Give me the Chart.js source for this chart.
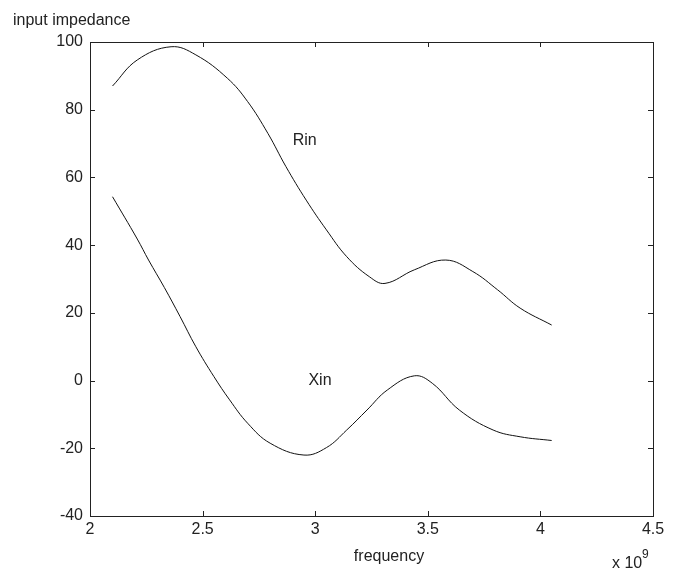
<!DOCTYPE html>
<html>
<head>
<meta charset="utf-8">
<title>input impedance</title>
<script src="https://cdn.jsdelivr.net/npm/chart.js@4.4.0/dist/chart.umd.min.js"></script>
<style>
    html, body { margin: 0; padding: 0; background: #fff; }
    #wrap { width: 677px; height: 571px; }
</style>
</head>
<body>
<div id="wrap"><canvas id="impedanceChart" width="677" height="571"></canvas></div>
<script>
    //== DỮ LIỆU (tần số tính theo đơn vị x 10^9) ==
    const rinFreq   = [2.10, 2.21, 2.36, 2.47, 2.61, 2.70, 2.79, 2.87, 2.96, 3.05, 3.14, 3.24, 3.31, 3.44, 3.58, 3.70, 3.81, 3.91, 4.05];
    const rinValues = [87.0, 94.7, 98.6, 96.2, 89.3, 82.4, 73.0, 63.2, 53.3, 44.5, 36.6, 30.7, 28.7, 32.7, 35.6, 32.2, 26.8, 21.4, 16.4];

    const xinFreq   = [2.10, 2.21, 2.26, 2.33, 2.40, 2.47, 2.55, 2.62, 2.70, 2.80, 2.95, 3.05, 3.14, 3.23, 3.32, 3.44, 3.52, 3.64, 3.79, 3.91, 4.05];
    const xinValues = [54.3, 41.8, 35.6, 27.5, 18.9, 10.0, 1.2, -5.7, -12.6, -18.5, -22.0, -19.8, -14.6, -8.7, -2.8, 1.4, -0.8, -8.7, -14.6, -16.6, -17.7];

    const xTicks = [2, 2.5, 3, 3.5, 4, 4.5];
    const yTicks = [-40, -20, 0, 20, 40, 60, 80, 100];

    // nhãn chữ đặt trên đường cong (toạ độ dữ liệu)
    const curveLabels = ['Rin', 'Xin'];
    const curveLabelX = [2.90, 2.97];
    const curveLabelY = [71, 0];

    const FONT = '"Liberation Sans", Arial, sans-serif';
    const FONT_SIZE = 16;
    const INK = '#222';

    function toPoints(xs, ys) {
        return xs.map((x, i) => ({ x: x, y: ys[i] }));
    }

    //-- khung + vạch chia hướng vào trong (kiểu matlab)
    const frameAndTicks = {
        id: 'frameAndTicks',
        afterDatasetsDraw(chart) {
            const ctx = chart.ctx;
            const a = chart.chartArea;
            const sx = chart.scales.x, sy = chart.scales.y;
            const len = 5;
            ctx.save();
            ctx.strokeStyle = INK;
            ctx.lineWidth = 1;
            ctx.strokeRect(a.left + 0.5, a.top + 0.5, a.right - a.left, a.bottom - a.top);
            ctx.beginPath();
            xTicks.forEach(v => {
                const px = Math.round(sx.getPixelForValue(v)) + 0.5;
                ctx.moveTo(px, a.bottom); ctx.lineTo(px, a.bottom - len);
                ctx.moveTo(px, a.top); ctx.lineTo(px, a.top + len);
            });
            yTicks.forEach(v => {
                const py = Math.round(sy.getPixelForValue(v)) + 0.5;
                ctx.moveTo(a.left, py); ctx.lineTo(a.left + len, py);
                ctx.moveTo(a.right, py); ctx.lineTo(a.right - len, py);
            });
            ctx.stroke();

            // chữ Rin / Xin
            ctx.fillStyle = INK;
            ctx.font = FONT_SIZE + 'px ' + FONT;
            ctx.textAlign = 'left';
            ctx.textBaseline = 'middle';
            curveLabels.forEach((t, i) => {
                ctx.fillText(t, sx.getPixelForValue(curveLabelX[i]), sy.getPixelForValue(curveLabelY[i]));
            });
            ctx.restore();
        }
    };

    //-- tên trục
    const axisTitles = {
        id: 'axisTitles',
        afterDraw(chart) {
            const ctx = chart.ctx;
            ctx.save();
            ctx.fillStyle = INK;
            ctx.font = FONT_SIZE + 'px ' + FONT;
            ctx.textBaseline = 'alphabetic';
            ctx.textAlign = 'left';
            ctx.fillText('input impedance', 13, 25);
            ctx.textAlign = 'center';
            ctx.fillText('frequency', 389, 561);
            ctx.textAlign = 'left';
            ctx.fillText('x 10', 612, 568);
            ctx.font = '12px ' + FONT;
            ctx.fillText('9', 642, 558);
            ctx.restore();
        }
    };

    const ctx = document.getElementById('impedanceChart').getContext('2d');
    const impedanceChart = new Chart(ctx, {
        type: 'scatter',
        data: {
            datasets: [{
                label: 'Rin',
                data: toPoints(rinFreq, rinValues),
                showLine: true,
                borderColor: '#111',
                borderWidth: 1,
                pointRadius: 0,
                tension: 0.4
            }, {
                label: 'Xin',
                data: toPoints(xinFreq, xinValues),
                showLine: true,
                borderColor: '#111',
                borderWidth: 1,
                pointRadius: 0,
                tension: 0.4
            }]
        },
        options: {
            responsive: false,
            animation: false,
            layout: { padding: { left: 0, top: 42, right: 24, bottom: 0 } },
            plugins: {
                legend: { display: false },
                tooltip: { enabled: false }
            },
            scales: {
                x: {
                    type: 'linear',
                    min: 2,
                    max: 4.5,
                    grid: { display: false, drawTicks: false },
                    border: { display: false },
                    ticks: {
                        color: INK, font: { family: FONT, size: FONT_SIZE }, padding: 4, maxRotation: 0,
                        callback: v => String(v)
                    },
                    afterBuildTicks: scale => { scale.ticks = xTicks.map(v => ({ value: v })); },
                    afterFit: scale => { scale.height = 55; }
                },
                y: {
                    type: 'linear',
                    min: -40,
                    max: 100,
                    grid: { display: false, drawTicks: false },
                    border: { display: false },
                    ticks: {
                        color: INK, font: { family: FONT, size: FONT_SIZE }, padding: 7,
                        callback: v => String(v)
                    },
                    afterBuildTicks: scale => { scale.ticks = yTicks.map(v => ({ value: v })); },
                    afterFit: scale => { scale.width = 90; }
                }
            }
        },
        plugins: [frameAndTicks, axisTitles]
    });
</script>
</body>
</html>
